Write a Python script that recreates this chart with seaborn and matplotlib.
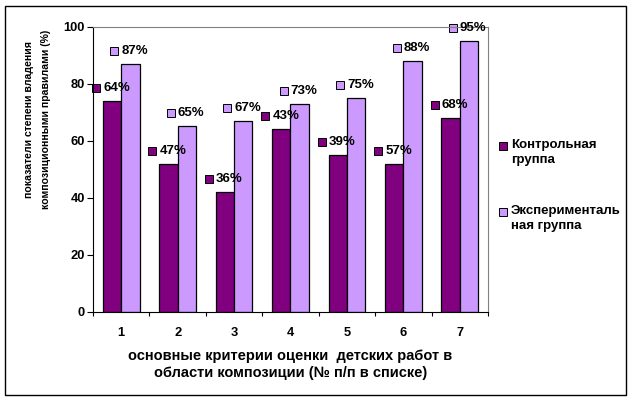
import matplotlib
matplotlib.use("Agg")
import matplotlib.pyplot as plt
import matplotlib.transforms as mtransforms
import numpy as np
import pandas as pd
import seaborn as sns
from matplotlib.lines import Line2D
from matplotlib.patches import Rectangle

# Data
criteria = ["1", "2", "3", "4", "5", "6", "7"]
control_values = [74, 52, 42, 64, 55, 52, 68]
experimental_values = [87, 65, 67, 73, 75, 88, 95]
control_labels = ["64%", "47%", "36%", "43%", "39%", "57%", "68%"]
experimental_labels = ["87%", "65%", "67%", "73%", "75%", "88%", "95%"]
groups = ["Контрольная\nгруппа", "Эксперименталь\nная группа"]

dark = "#800080"
light = "#CC99FF"

plt.rcParams["font.family"] = ["Liberation Sans", "DejaVu Sans"]
plt.rcParams["font.weight"] = "bold"
fs_tick = 9.3
fs_lab = 9.5

df = pd.DataFrame({
    "criterion": criteria * 2,
    "value": control_values + experimental_values,
    "group": [groups[0]] * len(criteria) + [groups[1]] * len(criteria),
})

fig = plt.figure(figsize=(6.33, 4.01), dpi=100)
ax = fig.add_axes([93 / 633, 1 - 311.7 / 401, 395 / 633, 285 / 401])

sns.barplot(data=df, x="criterion", y="value", hue="group", order=criteria,
            hue_order=groups, palette=[dark, light], width=0.65, gap=0,
            edgecolor="black", linewidth=0.9, saturation=1, legend=False, ax=ax)

ax.set_xlim(-0.5, len(criteria) - 0.5)
ax.set_ylim(0, 100)
ax.set_yticks(np.arange(0, 101, 20))
ax.set_yticklabels([str(v) for v in range(0, 101, 20)], fontsize=fs_tick, fontweight="bold")
ax.tick_params(axis="y", length=4, width=0.8, pad=2)

# ticks between categories, labels at category centres
ax.set_xticks(np.arange(-0.5, len(criteria), 1.0))
ax.set_xticklabels([])
ax.set_xticks(np.arange(len(criteria)), minor=True)
ax.set_xticklabels(criteria, minor=True, fontsize=fs_tick, fontweight="bold")
ax.tick_params(axis="x", which="major", length=3, width=0.8)
ax.tick_params(axis="x", which="minor", length=0, pad=11)
ax.set_xlabel("")
ax.set_ylabel("")

for side in ["top", "right"]:
    ax.spines[side].set_color("#808080")
    ax.spines[side].set_linewidth(0.8)
for side in ["left", "bottom"]:
    ax.spines[side].set_color("black")
    ax.spines[side].set_linewidth(0.8)

# data labels with a small key square
bw = 0.65 / 2
shift = mtransforms.ScaledTranslation(-16 / 100, 13 / 100, fig.dpi_scale_trans)
for i in range(len(criteria)):
    for vals, labs, col, dx in [(control_values, control_labels, dark, -bw / 2),
                                (experimental_values, experimental_labels, light, bw / 2)]:
        x = i + dx
        y = vals[i]
        ax.plot([x], [y], marker="s", markersize=5.4, markerfacecolor=col,
                markeredgecolor="black", markeredgewidth=0.7, linestyle="none",
                clip_on=False, transform=ax.transData + shift)
        ax.annotate(labs[i], xy=(x, y), xytext=(-9, 13), textcoords="offset pixels",
                    ha="left", va="center", fontsize=fs_lab, fontweight="bold",
                    annotation_clip=False)

# axis titles
fig.text(290.5 / 633, 1 - 364.5 / 401,
         "основные критерии оценки  детских работ в\nобласти композиции (№ п/п в списке)",
         ha="center", va="center", fontsize=10.5, fontweight="bold", linespacing=1.2)
fig.text(37.5 / 633, 1 - 119 / 401,
         "показатели степени владения\nкомпозиционными правилами (%)",
         ha="center", va="center", rotation=90, fontsize=7.6, fontweight="bold",
         linespacing=1.9)

# legend drawn beside the plot
for k, (name, col) in enumerate(zip(groups, [dark, light])):
    ytop = 146 + k * 66
    fig.add_artist(Line2D([503 / 633], [1 - ytop / 401], marker="s", markersize=5.4,
                          markerfacecolor=col, markeredgecolor="black",
                          markeredgewidth=0.7, linestyle="none",
                          transform=fig.transFigure))
    fig.text(511 / 633, 1 - (ytop - 7) / 401, name, ha="left", va="top",
             fontsize=fs_lab, fontweight="bold", linespacing=1.3)

# outer frame of the chart
fig.add_artist(Rectangle((5 / 633, 6 / 401), 621 / 633, 389 / 401, fill=False,
                         edgecolor="black", linewidth=1, transform=fig.transFigure))

fig.savefig("out.png", dpi=100)
